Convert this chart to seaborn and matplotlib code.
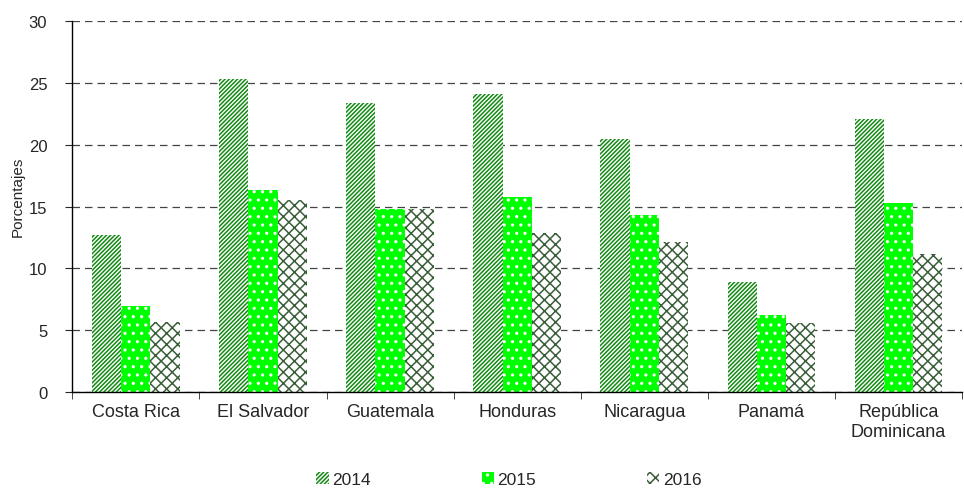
import matplotlib
matplotlib.use("Agg")
import matplotlib.pyplot as plt
from matplotlib.patches import Patch
import numpy as np
import pandas as pd
import seaborn as sns

paises = ['Costa Rica', 'El Salvador', 'Guatemala', 'Honduras', 'Nicaragua',
          'Panamá', 'República\nDominicana']
anios = ['2014', '2015', '2016']
v2014 = [12.7, 25.3, 23.4, 24.1, 20.5, 8.9, 22.1]
v2015 = [7.0, 16.3, 14.8, 15.8, 14.3, 6.2, 15.3]
v2016 = [5.7, 15.5, 14.8, 12.9, 12.1, 5.6, 11.2]

df = pd.DataFrame({'pais': paises * 3,
                   'anio': [a for a in anios for _ in paises],
                   'valor': v2014 + v2015 + v2016})

sns.set_style('white')
plt.rcParams['font.family'] = ['Liberation Sans', 'DejaVu Sans']
plt.rcParams['hatch.linewidth'] = 1.1

fig = plt.figure(figsize=(9.64, 4.89), dpi=100)
ax = fig.add_axes([0.075, 0.196, 0.923, 0.759])

sns.barplot(data=df, x='pais', y='valor', hue='anio', ax=ax, width=0.69,
            palette=['white', '#00ff00', 'white'], saturation=1, legend=False)

estilos = {'2014': ('white', '#138a13', '////////'),
           '2015': ('#00ff00', 'white', '..'),
           '2016': ('white', '#3a5e3a', 'xxx')}
for cont, anio in zip(ax.containers, anios):
    fc, hc, h = estilos[anio]
    for p in cont:
        p.set_facecolor(fc)
        p.set_edgecolor(hc)
        p.set_hatch(h)
        p.set_linewidth(0)

ax.set_ylim(0, 30)
ax.set_xlim(-0.5, len(paises) - 0.5)
ax.set_yticks(np.arange(0, 31, 5))
ax.yaxis.grid(True, linestyle=(0, (6, 4)), color='#444444', linewidth=0.9)
ax.set_axisbelow(True)
for s in ['top', 'right']:
    ax.spines[s].set_visible(False)
for s in ['left', 'bottom']:
    ax.spines[s].set_color('black')
    ax.spines[s].set_linewidth(1)

ax.set_xticks(np.arange(len(paises)))
ax.set_xticklabels(paises, fontsize=13)
ax.tick_params(axis='x', which='major', length=0, pad=8)
ax.set_xticks(np.arange(len(paises) + 1) - 0.5, minor=True)
ax.tick_params(axis='x', which='minor', length=5, direction='out', bottom=True)
ax.tick_params(axis='y', length=5, direction='out', left=True, labelsize=12, pad=13)
ax.set_xlabel('')
ax.set_ylabel('Porcentajes', fontsize=11)
ax.yaxis.set_label_coords(-0.053, 0.53)

handles = [Patch(facecolor=estilos[a][0], edgecolor=estilos[a][1],
                 hatch=estilos[a][2], linewidth=0, label=a) for a in anios]
fig.legend(handles=handles, loc='center', bbox_to_anchor=(0.528, 0.018), ncol=3,
           frameon=False, fontsize=12.5, handlelength=0.7, handleheight=0.7,
           handletextpad=0.2, columnspacing=6.4)

fig.savefig('out.png', dpi=100)
